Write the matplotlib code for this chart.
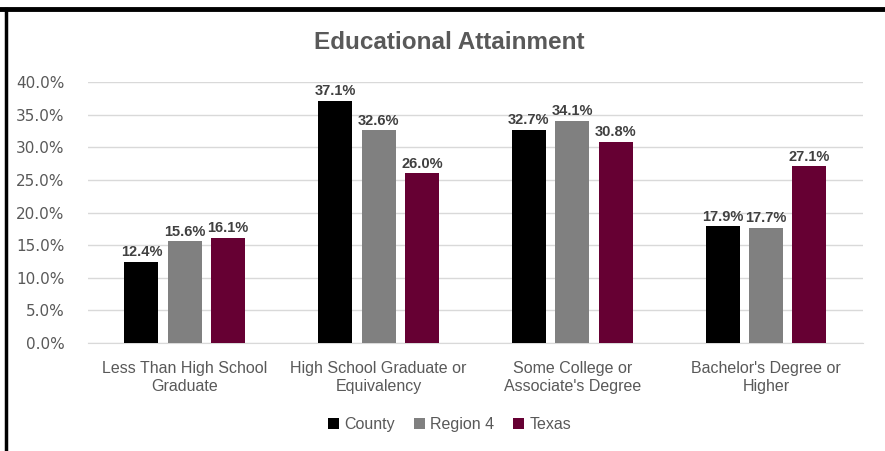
import matplotlib
matplotlib.use("Agg")
import matplotlib.pyplot as plt
import numpy as np
from matplotlib.ticker import FuncFormatter, MultipleLocator
from matplotlib.lines import Line2D

# data
categories = ["Less Than High School\nGraduate", "High School Graduate or\nEquivalency",
              "Some College or\nAssociate's Degree", "Bachelor's Degree or\nHigher"]
county = [0.124, 0.371, 0.327, 0.179]
region4 = [0.156, 0.326, 0.341, 0.177]
texas = [0.161, 0.260, 0.308, 0.271]
series_names = ["County", "Region 4", "Texas"]
colors = ["#000000", "#808080", "#660033"]

narrow = ["Liberation Sans Narrow", "Liberation Sans", "DejaVu Sans"]
txt = "#595959"

fig = plt.figure(figsize=(8.85, 4.51), dpi=100)
ax = fig.add_axes([0.0994, 0.2395, 0.8756, 0.5785])

x = np.arange(len(categories))
w = 0.175
off = 0.224
for i, (vals, name, c) in enumerate(zip([county, region4, texas], series_names, colors)):
    bars = ax.bar(x + (i - 1) * off, vals, width=w, color=c, label=name, zorder=3)
    for b, v in zip(bars, vals):
        ax.text(b.get_x() + b.get_width() / 2, v + 0.004, f"{v*100:.1f}%",
                ha="center", va="bottom", fontsize=10.5, fontweight="bold",
                color="#404040", family=narrow)

ax.set_ylim(0, 0.4)
ax.set_xlim(-0.5, 3.5)
ax.yaxis.set_major_locator(MultipleLocator(0.05))
ax.yaxis.set_major_formatter(FuncFormatter(lambda v, p: f"{v*100:.1f}%"))
ax.grid(axis="y", color="#d9d9d9", linewidth=1, zorder=0)
for s in ["top", "right", "left"]:
    ax.spines[s].set_visible(False)
ax.spines["bottom"].set_color("#d9d9d9")
ax.tick_params(axis="both", length=0)
ax.tick_params(axis="y", labelsize=11, labelcolor=txt, pad=17)
ax.set_xticks(x)
ax.set_xticklabels(categories, fontsize=11.5, color=txt, family=narrow, linespacing=1.25)
ax.tick_params(axis="x", pad=13)

fig.text(0.508, 0.905, "Educational Attainment", ha="center", va="center",
         fontsize=17.5, fontweight="bold", color=txt, family=narrow)

leg = fig.legend(loc="center", bbox_to_anchor=(0.508, 0.058), ncol=3, frameon=False,
                 handlelength=0.7, handleheight=0.7, handletextpad=0.3, columnspacing=1.2,
                 prop={"family": narrow, "size": 11.5})
for t in leg.get_texts():
    t.set_color(txt)

# black frame lines on top and left
fig.add_artist(Line2D([0.0, 1.0], [0.98, 0.98], transform=fig.transFigure, color="black", linewidth=3.5))
fig.add_artist(Line2D([0.0072, 0.0072], [0.0, 0.98], transform=fig.transFigure, color="black", linewidth=2.5))

fig.savefig("out.png", dpi=100)
